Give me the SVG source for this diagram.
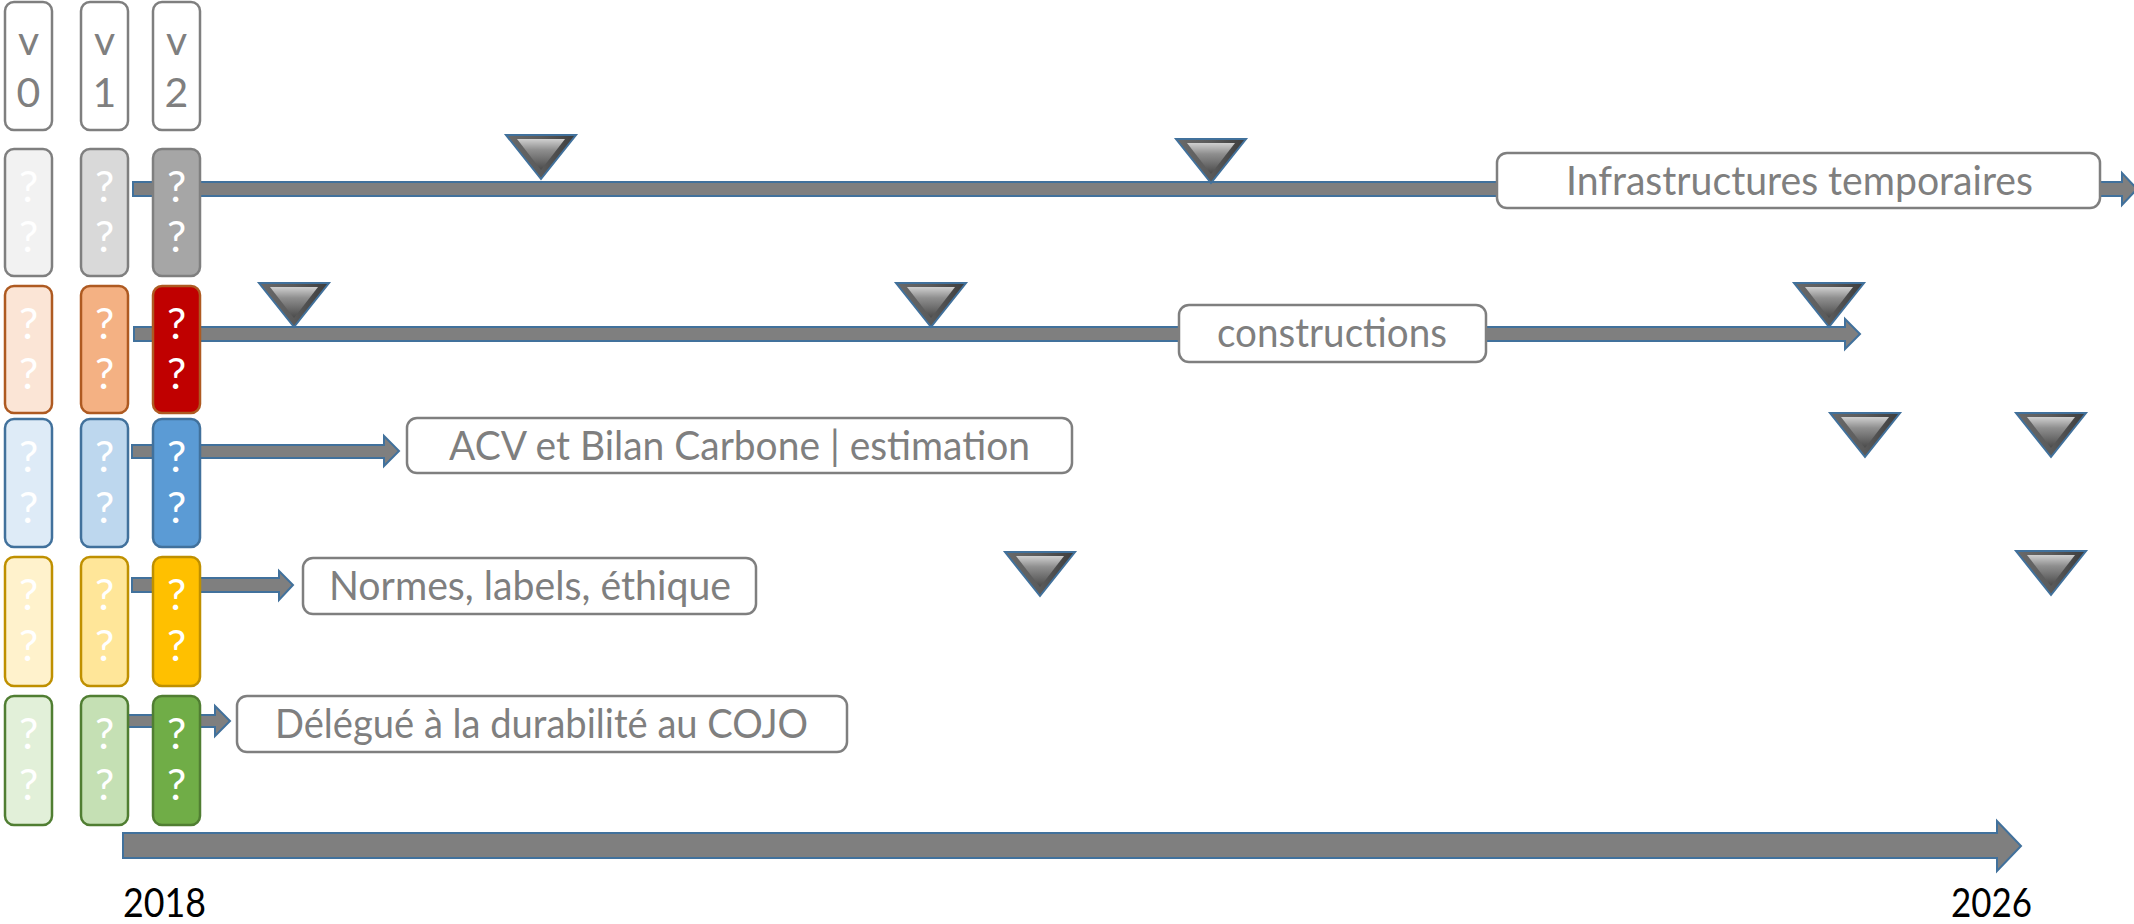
<svg xmlns="http://www.w3.org/2000/svg" xmlns:xlink="http://www.w3.org/1999/xlink" width="2134" height="924" viewBox="0 0 2134 924">
<defs>
<linearGradient id="triIn" x1="0" y1="0" x2="0" y2="1">
<stop offset="0" stop-color="#d0d0d0"/>
<stop offset="0.35" stop-color="#8f8f8f"/>
<stop offset="1" stop-color="#4a4a4a"/>
</linearGradient>
<linearGradient id="triOut" x1="0" y1="0" x2="1" y2="0">
<stop offset="0" stop-color="#6a6a6a"/>
<stop offset="0.5" stop-color="#5a5a5a"/>
<stop offset="1" stop-color="#3c3c3c"/>
</linearGradient>
<g id="tri">
<polygon points="0,0 70,0 35,44" fill="url(#triOut)" stroke="#41719c" stroke-width="2" stroke-linejoin="miter"/>
<polygon points="11,4 59,4 35,35" fill="url(#triIn)"/>
</g>
</defs>
<style>
.ver{fill:#ffffff;stroke:#7f7f7f;stroke-width:2.5}
.vt{font-family:Lato,"Open Sans",sans-serif;font-size:41px;fill:#7f7f7f;text-anchor:middle}
.q{font-family:Lato,"Open Sans",sans-serif;font-size:43px;fill:#ffffff;text-anchor:middle}
.lbl{fill:#ffffff;stroke:#7f7f7f;stroke-width:2.5}
.lt{font-family:Lato,"Open Sans",sans-serif;font-size:40px;fill:#7f7f7f;text-anchor:middle}
.yr{font-family:Lato,"Open Sans",sans-serif;font-size:40px;fill:#000000}
.arr{fill:#7f7f7f;stroke:#41719c;stroke-width:2;stroke-linejoin:miter}
.g{stroke:#7f7f7f;stroke-width:2.5}
.o{stroke:#ae5a21;stroke-width:2.5}
.b{stroke:#41719c;stroke-width:2.5}
.y{stroke:#bf9000;stroke-width:2.5}
.gr{stroke:#507e32;stroke-width:2.5}
</style>
<rect width="2134" height="924" fill="#ffffff"/>

<g id="connectors">
<polygon class="arr" points="133,182 2122,182 2122,173 2137,189 2122,205 2122,196 133,196"/>
<polygon class="arr" points="134,327 1845,327 1845,319 1860,334 1845,349 1845,341 134,341"/>
<polygon class="arr" points="132,445 384,445 384,436 399,451 384,466 384,458 132,458"/>
<polygon class="arr" points="132,578 279,578 279,571 293,585 279,600 279,592 132,592"/>
<polygon class="arr" points="128,715 215,715 215,706 230,721 215,736 215,727 128,727"/>
<polygon class="arr" points="123,833 1997,833 1997,821 2021,846 1997,871 1997,858 123,858"/>
</g>

<g id="versions">
<g id="v0"><rect class="ver" x="5" y="2" width="47" height="128" rx="9"/><text class="vt" x="28.5" y="55">v</text><text class="vt" x="28.5" y="107">0</text></g>
<g id="v1"><rect class="ver" x="81" y="2" width="47" height="128" rx="9"/><text class="vt" x="104.5" y="55">v</text><text class="vt" x="104.5" y="107">1</text></g>
<g id="v2"><rect class="ver" x="153" y="2" width="47" height="128" rx="9"/><text class="vt" x="176.5" y="55">v</text><text class="vt" x="176.5" y="107">2</text></g>
</g>

<g id="row1">
<g id="r1v0"><rect class="g" x="5" y="149" width="47" height="127" rx="9" fill="#f2f2f2"/><text class="q" x="28.5" y="202">?</text><text class="q" x="28.5" y="252">?</text></g>
<g id="r1v1"><rect class="g" x="81" y="149" width="47" height="127" rx="9" fill="#d9d9d9"/><text class="q" x="104.5" y="202">?</text><text class="q" x="104.5" y="252">?</text></g>
<g id="r1v2"><rect class="g" x="153" y="149" width="47" height="127" rx="9" fill="#a6a6a6"/><text class="q" x="176.5" y="202">?</text><text class="q" x="176.5" y="252">?</text></g>
</g>
<g id="row2">
<g id="r2v0"><rect class="o" x="5" y="286" width="47" height="127" rx="9" fill="#fbe5d6"/><text class="q" x="28.5" y="339">?</text><text class="q" x="28.5" y="389">?</text></g>
<g id="r2v1"><rect class="o" x="81" y="286" width="47" height="127" rx="9" fill="#f4b183"/><text class="q" x="104.5" y="339">?</text><text class="q" x="104.5" y="389">?</text></g>
<g id="r2v2"><rect class="o" x="153" y="286" width="47" height="127" rx="9" fill="#c00000"/><text class="q" x="176.5" y="339">?</text><text class="q" x="176.5" y="389">?</text></g>
</g>
<g id="row3">
<g id="r3v0"><rect class="b" x="5" y="419" width="47" height="128" rx="9" fill="#deebf7"/><text class="q" x="28.5" y="472">?</text><text class="q" x="28.5" y="523">?</text></g>
<g id="r3v1"><rect class="b" x="81" y="419" width="47" height="128" rx="9" fill="#bdd7ee"/><text class="q" x="104.5" y="472">?</text><text class="q" x="104.5" y="523">?</text></g>
<g id="r3v2"><rect class="b" x="153" y="419" width="47" height="128" rx="9" fill="#5b9bd5"/><text class="q" x="176.5" y="472">?</text><text class="q" x="176.5" y="523">?</text></g>
</g>
<g id="row4">
<g id="r4v0"><rect class="y" x="5" y="557" width="47" height="129" rx="9" fill="#fff2cc"/><text class="q" x="28.5" y="610">?</text><text class="q" x="28.5" y="661">?</text></g>
<g id="r4v1"><rect class="y" x="81" y="557" width="47" height="129" rx="9" fill="#ffe699"/><text class="q" x="104.5" y="610">?</text><text class="q" x="104.5" y="661">?</text></g>
<g id="r4v2"><rect class="y" x="153" y="557" width="47" height="129" rx="9" fill="#ffc000"/><text class="q" x="176.5" y="610">?</text><text class="q" x="176.5" y="661">?</text></g>
</g>
<g id="row5">
<g id="r5v0"><rect class="gr" x="5" y="696" width="47" height="129" rx="9" fill="#e2f0d9"/><text class="q" x="28.5" y="749">?</text><text class="q" x="28.5" y="800">?</text></g>
<g id="r5v1"><rect class="gr" x="81" y="696" width="47" height="129" rx="9" fill="#c5e0b4"/><text class="q" x="104.5" y="749">?</text><text class="q" x="104.5" y="800">?</text></g>
<g id="r5v2"><rect class="gr" x="153" y="696" width="47" height="129" rx="9" fill="#70ad47"/><text class="q" x="176.5" y="749">?</text><text class="q" x="176.5" y="800">?</text></g>
</g>

<g id="label-infra"><rect class="lbl" x="1497" y="153" width="603" height="55" rx="10"/><text class="lt" x="1799.5" y="195" textLength="467" lengthAdjust="spacingAndGlyphs">Infrastructures temporaires</text></g>
<g id="label-constructions"><rect class="lbl" x="1179" y="305" width="307" height="57" rx="10"/><text class="lt" x="1332" y="347" textLength="230" lengthAdjust="spacingAndGlyphs">constructions</text></g>
<g id="label-acv"><rect class="lbl" x="407" y="418" width="665" height="55" rx="10"/><text class="lt" x="739.5" y="460" textLength="581" lengthAdjust="spacingAndGlyphs">ACV et Bilan Carbone | estimation</text></g>
<g id="label-normes"><rect class="lbl" x="303" y="558" width="453" height="56" rx="10"/><text class="lt" x="530" y="600" textLength="402" lengthAdjust="spacingAndGlyphs">Normes, labels, éthique</text></g>
<g id="label-delegue"><rect class="lbl" x="237" y="696" width="610" height="56" rx="10"/><text class="lt" x="541.5" y="738" textLength="533" lengthAdjust="spacingAndGlyphs">Délégué à la durabilité au COJO</text></g>

<g id="milestones">
<g id="m1"><use xlink:href="#tri" href="#tri" x="506" y="135"/></g>
<g id="m2"><use xlink:href="#tri" href="#tri" x="1176" y="139"/></g>
<g id="m3"><use xlink:href="#tri" href="#tri" x="259" y="283"/></g>
<g id="m4"><use xlink:href="#tri" href="#tri" x="896" y="283"/></g>
<g id="m5"><use xlink:href="#tri" href="#tri" x="1794" y="283"/></g>
<g id="m6"><use xlink:href="#tri" href="#tri" x="1830" y="413"/></g>
<g id="m7"><use xlink:href="#tri" href="#tri" x="2016" y="413"/></g>
<g id="m8"><use xlink:href="#tri" href="#tri" x="1005" y="552"/></g>
<g id="m9"><use xlink:href="#tri" href="#tri" x="2016" y="551"/></g>
</g>

<g id="years">
<text class="yr" x="123" y="917" textLength="83" lengthAdjust="spacingAndGlyphs">2018</text>
<text class="yr" x="1951" y="917" textLength="81" lengthAdjust="spacingAndGlyphs">2026</text>
</g>
</svg>
